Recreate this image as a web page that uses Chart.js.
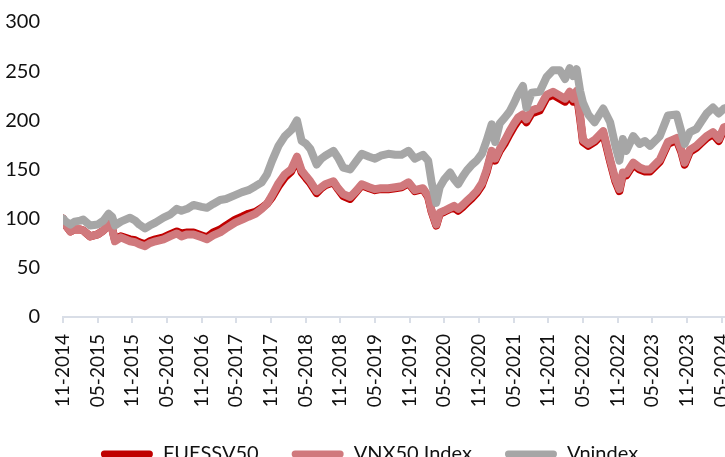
<!DOCTYPE html>
<html>
<head>
<meta charset="utf-8">
<script src="https://cdn.jsdelivr.net/npm/chart.js@4.4.1/dist/chart.umd.min.js"></script>
<style>
  html, body { margin: 0; padding: 0; background: #fff; overflow: hidden; }
  #wrap { position: relative; width: 742px; height: 474px; }
</style>
</head>
<body>
<div id="wrap"><canvas id="chart"></canvas></div>
<script>
// months since Nov 2014
const months = [0, 0.5, 1.3, 2, 3, 3.5, 4.7, 6, 7, 7.9, 8.5, 9, 10, 11.6, 12.5, 13.2, 14.2, 15, 16, 17.4,
  18.5, 19.7, 20.5, 21.5, 22.6, 24, 24.9, 26, 27.2, 28.2, 29.8, 31, 32.1, 33.3, 34.4, 35.3, 36.2, 37.3, 38.4, 39.5,
  40.5, 41.3, 42.1, 42.8, 43.9, 44.7, 45.4, 46.8, 47.6, 48.5, 49.7, 50.7, 51.7, 53, 54, 55, 56.3, 57.5, 58.6, 59.8,
  60.9, 62.3, 63.2, 63.8, 64.6, 65.2, 66, 67, 67.7, 68.4, 69.2, 69.9, 70.8, 71.6, 72.5, 73.3, 74.2, 74.8, 75.6, 76.5,
  77.3, 78.1, 78.8, 79.6, 80.2, 81.1, 82.5, 83.7, 84.8, 86, 86.9, 87.7, 88.3, 88.9, 89.5, 90, 90.9, 92, 93.5, 94.7,
  95.6, 96.3, 96.9, 97.5, 98.7, 99.8, 100.7, 101.6, 103.3, 104.7, 106.2, 107, 107.6, 108.5, 109.6, 110.5, 111.4, 112.5, 113.5, 114.4,
  115.5, 116.5];

const vnindex = [100, 97, 94, 97, 98, 99, 93, 94, 98, 105, 102, 93, 97, 101, 98, 94, 90, 93, 96, 101,
  104, 110, 108, 110, 114, 112, 111, 115, 119, 120, 124, 127, 129, 133, 137, 145, 159, 174, 184, 190,
  200, 179, 176, 171, 155, 161, 164, 169, 162, 152, 150, 158, 166, 163, 161, 164, 166, 165, 165, 169,
  161, 165, 159, 137, 116, 132, 140, 147, 140, 135, 143, 149, 155, 159, 166, 179, 196, 178, 197, 203,
  209, 218, 227, 235, 213, 228, 229, 244, 251, 251, 242, 253, 245, 252, 230, 218, 206, 198, 212, 198,
  174, 159, 181, 169, 184, 176, 179, 174, 184, 205, 206, 189, 176, 188, 191, 199, 207, 213, 207, 212,
  214, 213];

const vnx50 = [100, 93, 87, 89, 89, 88, 82, 84, 88, 94, 90, 77, 81, 77, 76, 74, 72, 75, 77, 79,
  82, 85, 82, 84, 84, 81, 79, 83, 86, 90, 96, 99, 102, 105, 110, 115, 124, 136, 145, 150,
  163, 149, 143, 138, 128, 132, 135, 138, 131, 125, 122, 128, 135, 132, 130, 131, 131, 132, 133, 137,
  129, 131, 123, 108, 94, 106, 108, 111, 113, 110, 114, 118, 123, 128, 136, 149, 169, 161, 171, 180,
  189, 197, 203, 206, 201, 210, 213, 226, 229, 225, 222, 229, 222, 230, 205, 180, 176, 180, 189, 160,
  140, 130, 147, 146, 157, 152, 150, 150, 160, 178, 182, 170, 157, 170, 174, 179, 184, 188, 181, 193,
  195, 194];

const fuessv50 = [100, 93, 87, 89, 89, 88, 82, 84, 88, 94, 90, 78, 82, 79, 78, 76, 74, 77, 79, 81,
  84, 87, 85, 86, 86, 83, 81, 86, 89, 93, 99, 102, 105, 107, 111, 115, 122, 133, 142, 148,
  161, 147, 141, 136, 126, 131, 134, 137, 130, 123, 120, 127, 134, 131, 129, 130, 130, 131, 132, 136,
  128, 130, 122, 107, 93, 105, 107, 110, 111, 108, 112, 116, 121, 126, 134, 147, 167, 159, 169, 177,
  186, 194, 200, 203, 198, 207, 210, 223, 226, 222, 219, 226, 219, 227, 202, 178, 174, 178, 187, 158,
  138, 128, 145, 144, 155, 150, 148, 148, 158, 176, 180, 168, 155, 168, 172, 177, 182, 186, 179, 191,
  193, 192];

const tickLabels = ['11-2014', '05-2015', '11-2015', '05-2016', '11-2016', '05-2017', '11-2017', '05-2018',
  '11-2018', '05-2019', '11-2019', '05-2020', '11-2020', '05-2021', '11-2021', '05-2022', '11-2022',
  '05-2023', '11-2023', '05-2024'];

const toPoints = arr => arr.map((v, i) => ({ x: months[i], y: v }));

const family = 'Lato, "Open Sans", sans-serif';
const font = { family: family, size: 20 };

function line(label, data, color, order) {
  return {
    label: label,
    data: toPoints(data),
    borderColor: color,
    backgroundColor: color,
    borderWidth: 8,
    pointRadius: 0,
    tension: 0,
    borderJoinStyle: 'round',
    borderCapStyle: 'round',
    order: order
  };
}

new Chart(document.getElementById('chart'), {
  type: 'line',
  data: {
    datasets: [
      line('FUESSV50', fuessv50, '#C00000', 2),
      line('VNX50 Index', vnx50, '#D0797D', 1),
      line('Vnindex', vnindex, '#A6A6A6', 0)
    ]
  },
  options: {
    responsive: true,
    maintainAspectRatio: false,
    animation: false,
    layout: { padding: { top: 22, right: 3, left: 0, bottom: 0 } },
    scales: {
      x: {
        type: 'linear',
        min: 0,
        max: 117,
        afterFit: s => { s.height = 94; s.paddingLeft = 0; s.paddingRight = 0; },
        grid: { drawOnChartArea: false, drawTicks: true, tickLength: 6, color: '#D9DEE7', lineWidth: 2 },
        border: { display: true, color: '#D9DEE7', width: 2 },
        ticks: {
          stepSize: 6,
          includeBounds: false,
          autoSkip: false,
          minRotation: 90,
          maxRotation: 90,
          padding: 11,
          color: '#111',
          font: { family: family, size: 19 },
          callback: v => tickLabels[v / 6]
        }
      },
      y: {
        min: 0,
        max: 300,
        afterFit: s => { s.width = 63; s.paddingTop = 0; s.paddingBottom = 0; },
        grid: { display: false, drawTicks: false },
        border: { display: false },
        ticks: { stepSize: 50, padding: 23, color: '#111', font: font }
      }
    },
    plugins: {
      tooltip: { enabled: false },
      legend: {
        position: 'bottom',
        labels: {
          boxWidth: 52,
          boxHeight: 7,
          useBorderRadius: true,
          borderRadius: 3.5,
          padding: 33,
          color: '#111',
          font: font,
          sort: (a, b) => a.datasetIndex - b.datasetIndex,
          generateLabels: chart => {
            const items = Chart.defaults.plugins.legend.labels.generateLabels(chart);
            items.forEach(it => { it.lineWidth = 0; });
            return items;
          }
        }
      }
    }
  }
});
</script>
</body>
</html>
